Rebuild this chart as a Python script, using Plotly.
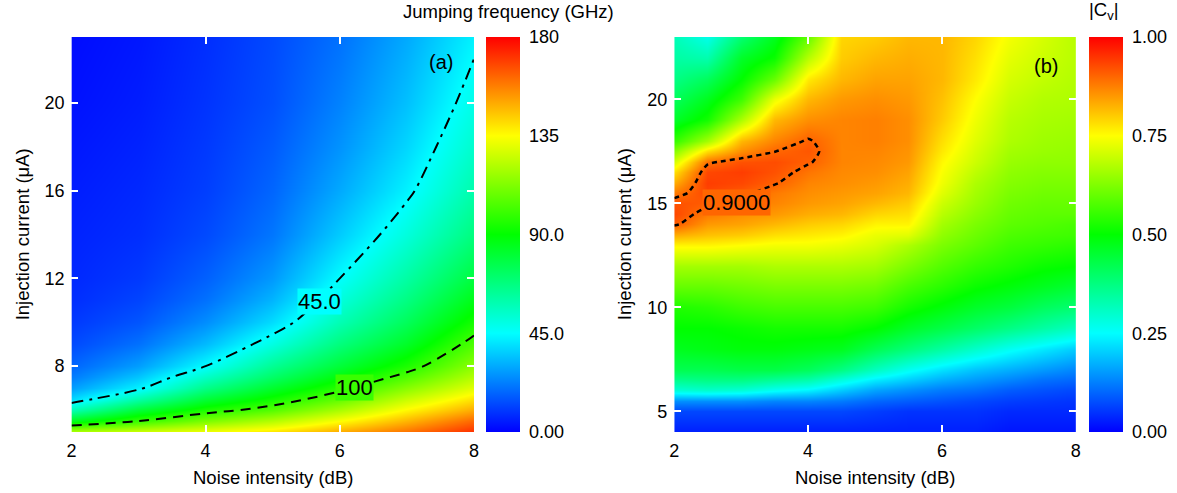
import numpy as np
import plotly.graph_objects as go

# ---------------- data: panel (a) jumping frequency (GHz) ----------------
a_noise = [2, 3, 4, 5, 6, 7, 8]
a_current = [5, 5.5, 6, 6.5, 7, 7.5, 8, 9, 10, 11, 12, 14, 16, 18, 20, 23]
a_col_2 = [122, 85, 58, 38, 28, 22, 18, 13, 10, 8, 7, 6, 5, 4, 3, 2]
a_col_3 = [127, 100, 80, 60, 43, 35, 28, 20, 15, 12, 10, 8, 7, 6, 5, 4]
a_col_4 = [133, 112, 95, 80, 66, 55, 45, 33, 25, 20, 17, 13, 11, 10, 9, 8]
a_col_5 = [140, 122, 105, 93, 82, 72, 64, 50, 39, 32, 27, 21, 18, 16, 14, 13]
a_col_6 = [150, 135, 120, 107, 97, 88, 80, 68, 58, 51, 45, 36, 30, 26, 23, 20]
a_col_7 = [160, 148, 136, 125, 114, 104, 95, 83, 74, 67, 61, 51, 43, 38, 34, 30]
a_col_8 = [172, 162, 150, 140, 130, 122, 115, 104, 94, 86, 79, 68, 60, 54, 49, 43]
a_levels = [45, 100]
a_level_labels = ["45.0", "100"]
a_ticks = [0, 45, 90, 135, 180]
a_ticktext = ["0.00", "45.0", "90.0", "135", "180"]

# ---------------- data: panel (b) |Cv| ----------------
b_noise = [2, 2.5, 3, 3.5, 4, 4.5, 5, 5.5, 6, 6.5, 7, 7.5, 8]
b_current = [4, 5, 5.5, 6, 6.5, 7, 8, 9, 10, 11, 12, 13, 13.5, 14, 14.5, 15,
             15.5, 16, 16.5, 17, 17.5, 18, 19, 20, 21, 22, 23]
b_col_20 = [0.03, 0.07, 0.14, 0.29, 0.36, 0.42, 0.47, 0.50, 0.53, 0.60, 0.66, 0.76, 0.83, 0.91, 0.93, 0.92, 0.88, 0.83, 0.78, 0.71, 0.63, 0.55, 0.46, 0.41, 0.37, 0.34, 0.32]
b_col_25 = [0.03, 0.07, 0.14, 0.30, 0.37, 0.42, 0.48, 0.50, 0.54, 0.60, 0.66, 0.76, 0.81, 0.85, 0.88, 0.91, 0.93, 0.94, 0.93, 0.89, 0.78, 0.66, 0.52, 0.47, 0.41, 0.33, 0.27]
b_col_30 = [0.03, 0.07, 0.14, 0.29, 0.37, 0.43, 0.49, 0.51, 0.56, 0.61, 0.66, 0.75, 0.80, 0.84, 0.86, 0.88, 0.91, 0.93, 0.94, 0.92, 0.86, 0.82, 0.67, 0.56, 0.50, 0.46, 0.39]
b_col_35 = [0.03, 0.07, 0.13, 0.26, 0.35, 0.43, 0.49, 0.52, 0.57, 0.62, 0.67, 0.74, 0.78, 0.82, 0.85, 0.87, 0.88, 0.905, 0.92, 0.925, 0.899, 0.87, 0.82, 0.73, 0.60, 0.51, 0.47]
b_col_40 = [0.03, 0.07, 0.13, 0.24, 0.33, 0.41, 0.48, 0.52, 0.57, 0.62, 0.67, 0.74, 0.77, 0.80, 0.83, 0.85, 0.86, 0.87, 0.885, 0.905, 0.915, 0.905, 0.86, 0.82, 0.77, 0.68, 0.60]
b_col_45 = [0.03, 0.07, 0.12, 0.20, 0.28, 0.37, 0.47, 0.52, 0.57, 0.62, 0.67, 0.73, 0.76, 0.79, 0.82, 0.84, 0.85, 0.86, 0.865, 0.87, 0.87, 0.87, 0.87, 0.85, 0.82, 0.80, 0.79]
b_col_50 = [0.03, 0.06, 0.10, 0.16, 0.23, 0.31, 0.42, 0.50, 0.56, 0.61, 0.66, 0.71, 0.73, 0.76, 0.79, 0.82, 0.84, 0.85, 0.86, 0.865, 0.87, 0.875, 0.875, 0.86, 0.84, 0.82, 0.80]
b_col_55 = [0.03, 0.05, 0.09, 0.14, 0.20, 0.26, 0.38, 0.46, 0.52, 0.57, 0.62, 0.67, 0.72, 0.76, 0.78, 0.80, 0.82, 0.83, 0.84, 0.85, 0.855, 0.86, 0.86, 0.85, 0.84, 0.83, 0.82]
b_col_60 = [0.03, 0.05, 0.08, 0.12, 0.17, 0.22, 0.34, 0.43, 0.49, 0.54, 0.58, 0.62, 0.64, 0.66, 0.68, 0.70, 0.72, 0.735, 0.745, 0.755, 0.77, 0.78, 0.80, 0.81, 0.82, 0.82, 0.82]
b_col_65 = [0.03, 0.05, 0.07, 0.11, 0.15, 0.19, 0.30, 0.40, 0.46, 0.51, 0.55, 0.59, 0.605, 0.62, 0.635, 0.65, 0.66, 0.67, 0.685, 0.70, 0.71, 0.72, 0.735, 0.75, 0.77, 0.78, 0.79]
b_col_70 = [0.02, 0.04, 0.06, 0.09, 0.13, 0.17, 0.26, 0.37, 0.44, 0.49, 0.53, 0.56, 0.575, 0.59, 0.60, 0.61, 0.62, 0.63, 0.64, 0.65, 0.66, 0.67, 0.68, 0.695, 0.71, 0.725, 0.74]
b_col_75 = [0.02, 0.04, 0.055, 0.08, 0.11, 0.15, 0.23, 0.34, 0.41, 0.47, 0.51, 0.55, 0.565, 0.58, 0.59, 0.60, 0.61, 0.62, 0.63, 0.64, 0.65, 0.655, 0.665, 0.675, 0.69, 0.70, 0.71]
b_col_80 = [0.02, 0.04, 0.05, 0.07, 0.10, 0.13, 0.20, 0.31, 0.39, 0.45, 0.50, 0.54, 0.56, 0.57, 0.59, 0.60, 0.61, 0.62, 0.63, 0.64, 0.645, 0.65, 0.66, 0.67, 0.675, 0.68, 0.68]
b_level = 0.9
b_level_label = "0.9000"
b_ticks = [0, 0.25, 0.5, 0.75, 1.0]
b_ticktext = ["0.00", "0.25", "0.50", "0.75", "1.00"]

a_z = np.array([a_col_2, a_col_3, a_col_4, a_col_5, a_col_6, a_col_7, a_col_8]).T
b_z = np.array([b_col_20, b_col_25, b_col_30, b_col_35, b_col_40, b_col_45, b_col_50,
                b_col_55, b_col_60, b_col_65, b_col_70, b_col_75, b_col_80]).T

W, H = 1177, 493
T, B = 37, 61
PH = H - T - B

rainbow = [[0, "rgb(0,0,255)"], [0.25, "rgb(0,255,255)"], [0.5, "rgb(0,255,0)"],
           [0.75, "rgb(255,255,0)"], [1, "rgb(255,0,0)"]]
FONT = "Liberation Sans, Arial, sans-serif"


def level_color(v):
    """colour of the rainbow scale at normalised value v (for label backgrounds)"""
    stops = [(0, (0, 0, 255)), (0.25, (0, 255, 255)), (0.5, (0, 255, 0)),
             (0.75, (255, 255, 0)), (1, (255, 0, 0))]
    for (p0, c0), (p1, c1) in zip(stops[:-1], stops[1:]):
        if p0 <= v <= p1:
            t = (v - p0) / (p1 - p0)
            c = [round(c0[i] + t * (c1[i] - c0[i])) for i in range(3)]
            return f"rgb({c[0]},{c[1]},{c[2]})"
    return "white"


def cbar(x, tv, tt):
    return dict(x=x, xanchor="left", y=0.5, yanchor="middle", len=1, lenmode="fraction",
                thickness=34, outlinewidth=0, xpad=0, ypad=0, ticks="outside", ticklen=6,
                tickcolor="white", tickvals=tv, ticktext=tt,
                tickfont=dict(size=18, color="black", family=FONT))


fig = go.Figure()
fig.add_trace(go.Heatmap(x=a_noise, y=a_current, z=a_z, zsmooth="best", colorscale=rainbow,
                         zmin=0, zmax=180, xaxis="x", yaxis="y",
                         colorbar=cbar(485 / W, a_ticks, a_ticktext)))
fig.add_trace(go.Contour(x=a_noise, y=a_current, z=a_z, xaxis="x", yaxis="y", showscale=False,
                         contours=dict(start=a_levels[0], end=a_levels[0], size=1, coloring="none"),
                         line=dict(color="black", width=2, dash="12px,6px,3px,6px", smoothing=1)))
fig.add_trace(go.Contour(x=a_noise, y=a_current, z=a_z, xaxis="x", yaxis="y", showscale=False,
                         contours=dict(start=a_levels[1], end=a_levels[1], size=1, coloring="none"),
                         line=dict(color="black", width=2, dash="10px,7px", smoothing=1)))
fig.add_trace(go.Heatmap(x=b_noise, y=b_current, z=b_z, zsmooth="best", colorscale=rainbow,
                         zmin=0, zmax=1, xaxis="x2", yaxis="y2",
                         colorbar=cbar(1093 / W, b_ticks, b_ticktext)))
fig.add_trace(go.Contour(x=b_noise, y=b_current, z=b_z, xaxis="x2", yaxis="y2", showscale=False,
                         contours=dict(start=b_level, end=b_level, size=0.1, coloring="none"),
                         line=dict(color="black", width=2.5, dash="5px,4px", smoothing=0.6)))


def xax(dom, anchor):
    return dict(domain=dom, anchor=anchor, range=[2, 8], tickvals=[2, 4, 6, 8], ticks="inside",
                ticklen=7, tickwidth=1.5, tickcolor="white", mirror="ticks", showline=False,
                showgrid=False, zeroline=False, tickfont=dict(size=18, color="black", family=FONT),
                ticklabelstandoff=6)


def yax(rng, tv, anchor):
    return dict(domain=[0, 1], anchor=anchor, range=rng, tickvals=tv, ticks="inside",
                ticklen=7, tickwidth=1.5, tickcolor="white", mirror="ticks", showline=False,
                showgrid=False, zeroline=False, tickfont=dict(size=18, color="black", family=FONT),
                ticklabelstandoff=6)


ax1 = [67 / W, 473 / W]
ax2 = [675 / W, 1080 / W]

ann = []


def add_ann(text, x, y, xref, yref, size=18.5, angle=0, bg=None):
    d = dict(text=text, x=x, y=y, xref=xref, yref=yref, showarrow=False,
             textangle=angle, font=dict(size=size, color="black", family=FONT),
             xanchor="center", yanchor="middle")
    if bg:
        d.update(bgcolor=bg, borderpad=0)
    ann.append(d)


add_ann("Noise intensity (dB)", (ax1[0] + ax1[1]) / 2, (432 - 477) / PH, "paper", "paper")
add_ann("Noise intensity (dB)", (ax2[0] + ax2[1]) / 2, (432 - 477) / PH, "paper", "paper")
add_ann("Injection current (μA)", 18 / W, 0.5, "paper", "paper", angle=-90)
add_ann("Injection current (μA)", 625 / W, 0.5, "paper", "paper", angle=-90)
add_ann("Jumping frequency (GHz)", 508 / W, 1 + (T - 11) / PH, "paper", "paper")
add_ann("|C<sub>v</sub>|", 1108 / W, 1 + (T - 11) / PH, "paper", "paper")
add_ann("(a)", 7.51, 21.88, "x", "y", size=20)
add_ann("(b)", 7.55, 21.6, "x2", "y2", size=20)
add_ann(a_level_labels[0], 5.69, 10.95, "x", "y", size=22, bg=level_color(a_levels[0] / 180))
add_ann(a_level_labels[1], 6.22, 7.05, "x", "y", size=22, bg=level_color(a_levels[1] / 180))
add_ann(b_level_label, 2.93, 15.05, "x2", "y2", size=22, bg=level_color(b_level))

fig.update_layout(
    width=W, height=H, margin=dict(l=0, r=0, t=T, b=B),
    paper_bgcolor="white", plot_bgcolor="white",
    font=dict(family=FONT, size=18, color="black"),
    xaxis=xax(ax1, "y"), yaxis=yax([5, 23], [8, 12, 16, 20], "x"),
    xaxis2=xax(ax2, "y2"), yaxis2=yax([4, 23], [5, 10, 15, 20], "x2"),
    annotations=ann, showlegend=False,
)

fig.write_html("out.html")
